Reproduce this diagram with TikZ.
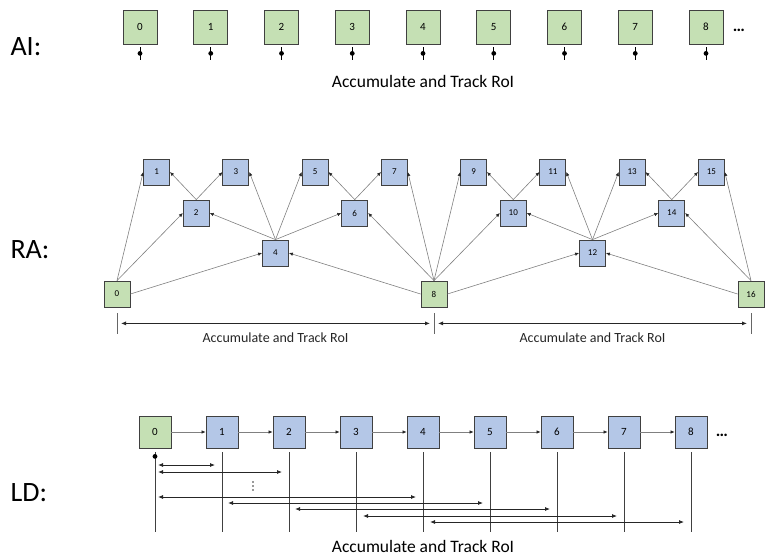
\documentclass[tikz,border=0pt]{standalone}
\usepackage{fontspec}
\setmainfont{Carlito}
\usetikzlibrary{arrows.meta}
\definecolor{keygreen}{HTML}{C5E0B4}
\definecolor{predblue}{HTML}{B4C7E7}
\definecolor{boxline}{HTML}{404040}
\tikzset{
	framebox/.style={
		% The shape:
		rectangle,inner sep=0pt,
		% The border:
		draw=boxline,line width=0.8pt,
	}}
\tikzset{
	keybox/.style={framebox,fill=keygreen},
	predbox/.style={framebox,fill=predblue},
	% thin grey arrows between frames
	edgearrow/.style={-{Latex[length=4pt,width=3.5pt,color=black!85]},draw=black!50,line width=0.6pt},
	roispan/.style={{Latex[length=5pt,width=4pt]}-{Latex[length=5pt,width=4pt]},line width=0.8pt,black!85},
	rowlabel/.style={font=\fontsize{28}{30}\selectfont,anchor=west},
	roitext/.style={font=\fontsize{17.5}{20}\selectfont},
	moredots/.style={font=\fontsize{17}{18}\selectfont\bfseries,inner sep=0pt},
}

\begin{document}
\begin{tikzpicture}[x=1pt,y=-1pt]
\useasboundingbox (0,0) rectangle (770,559);

% AI: every frame is a key frame
\node[rowlabel] (ailabel) at (7,47) {AI:};
\foreach \i in {0,...,8}{
	\node[keybox,minimum size=34pt,font=\fontsize{11}{12}\selectfont] (ai\i) at ({140+70.75*\i},27) {\i};
	\draw[line width=0.9pt] ([yshift=-3pt]ai\i.south) -- ++(0,13);
	\fill ([yshift=-9pt]ai\i.south) circle (2.4pt);
}
\node[moredots] (aidots) at (739,30) {…};
\node[roitext] (aitext) at (423,81) {Accumulate and Track RoI};

% RA: hierarchy
\node[rowlabel] (ralabel) at (7,250) {RA:};
\foreach \i in {0,8,16}
	\node[keybox,minimum size=26pt,font=\fontsize{9}{10}\selectfont] (ra\i) at ({117+39.625*\i},294) {\i};
\foreach \i/\y in {1/172,2/213,3/172,4/253,5/172,6/213,7/172,9/172,10/213,11/172,12/253,13/172,14/213,15/172}
	\node[predbox,minimum size=26pt,font=\fontsize{9}{10}\selectfont] (ra\i) at ({117+39.625*\i},\y) {\i};
\foreach \a/\b in {0/1,0/2,2/3,4/5,4/6,6/7,8/9,8/10,10/11,12/13,12/14,14/15}
	\draw[edgearrow] (ra\a.north) -- (ra\b.west);
\foreach \a/\b in {2/1,4/2,4/3,6/5,8/7,8/6,10/9,12/10,12/11,14/13,16/15,16/14}
	\draw[edgearrow] (ra\a.north) -- (ra\b.east);
\draw[edgearrow] (ra0.east) -- (ra4.west);
\draw[edgearrow] (ra8.west) -- (ra4.east);
\draw[edgearrow] (ra8.east) -- (ra12.west);
\draw[edgearrow] (ra16.west) -- (ra12.east);
\foreach \i in {0,8,16}{
	\draw[black!60,line width=0.8pt] ([yshift=-6pt]ra\i.south) -- ++(0,21);
	\coordinate (rt\i) at ([yshift=-16pt]ra\i.south);
}
\draw[roispan] ([xshift=4pt]rt0) -- ([xshift=-4pt]rt8)
	node[roitext,font=\fontsize{14}{16}\selectfont,midway,yshift=-14pt] (ratext1) {Accumulate and Track RoI};
\draw[roispan] ([xshift=4pt]rt8) -- ([xshift=-4pt]rt16)
	node[roitext,font=\fontsize{14}{16}\selectfont,midway,yshift=-14pt] (ratext2) {Accumulate and Track RoI};

% LD: low delay chain
\node[rowlabel] (ldlabel) at (7,493) {LD:};
\node[keybox,minimum size=32pt,font=\fontsize{11}{12}\selectfont] (ld0) at (155,432) {0};
\foreach \i in {1,...,8}
	\node[predbox,minimum size=32pt,font=\fontsize{11}{12}\selectfont] (ld\i) at ({155+67*\i},432) {\i};
\foreach \i [evaluate=\i as \j using int(\i-1)] in {1,...,8}
	\draw[edgearrow] (ld\j) -- (ld\i);
\node[moredots] (lddots) at (722,435) {…};
\foreach \i in {0,...,8}
	\draw[black!75,line width=0.8pt] ([yshift=-4pt]ld\i.south) -- ++(0,80);
\fill ([yshift=-8pt]ld0.south) circle (2.4pt);
\foreach \a/\b/\y/\g in {0/1/465/3,0/2/472/3,0/4/497/3,1/5/503/6,2/6/509/6,3/7/516/7,4/8/522/7}{
	\coordinate (row\b) at (0,\y);
	\draw[roispan] ([xshift=\g pt]ld\a |- row\b) -- ([xshift=-7pt]ld\b |- row\b);
}
% vertical dots between the rows
\foreach \y in {482,486,490}
	\fill[black!80] (253,\y) circle (0.8pt);
\node[roitext] (ldtext) at (423,546) {Accumulate and Track RoI};
\end{tikzpicture}
\end{document}
